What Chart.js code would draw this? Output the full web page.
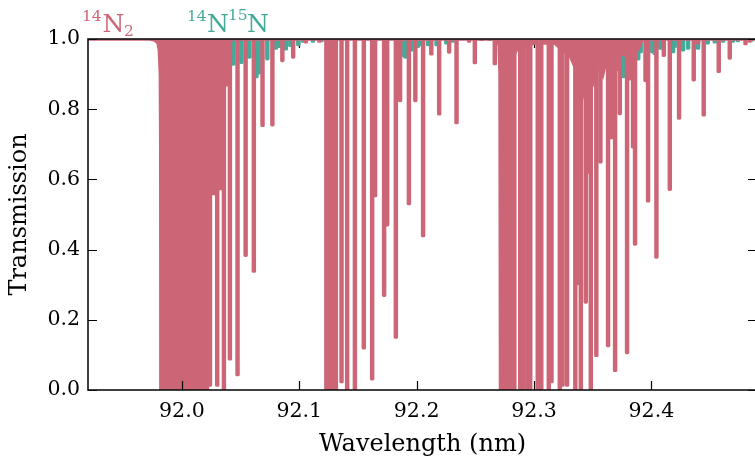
<!DOCTYPE html>
<html><head><meta charset="utf-8">
<script src="https://cdn.jsdelivr.net/npm/chart.js@4.4.0/dist/chart.umd.min.js"></script>
<style>html,body{margin:0;padding:0;overflow:hidden;background:#fff}canvas{display:block}</style>
</head><body>
<canvas id="c" width="760" height="457" style="width:760px;height:457px"></canvas>
<script>
// ---- data ----
const xTicks = [92.0, 92.1, 92.2, 92.3, 92.4];
const yTicks = [0.0, 0.2, 0.4, 0.6, 0.8, 1.0];

// 14N2 absorption lines: wavelength (nm) and minimum transmission
const n2LineWl = [
  91.9825, 91.9851, 91.9876, 91.9902, 91.9928, 91.9953, 91.9974, 92.0004, 92.0030, 92.0055,
  92.0081, 92.0106, 92.0132, 92.0158, 92.0183, 92.0204, 92.0239, 92.0271, 92.0301, 92.0328,
  92.0358, 92.0375, 92.0409, 92.0474, 92.0543, 92.0613, 92.0687, 92.0771, 92.0856, 92.0948,
  92.1056, 92.1171,
  92.1231, 92.1256, 92.1282, 92.1312, 92.1360, 92.1408, 92.1474, 92.1550, 92.1621, 92.1646,
  92.1723, 92.1749, 92.1823, 92.1859, 92.1934, 92.1989, 92.2055, 92.2125, 92.2192, 92.2277,
  92.2340, 92.2447, 92.2496, 92.2553, 92.2666, 92.2685,
  92.2726, 92.2751, 92.2777, 92.2798, 92.2832, 92.2883, 92.2905, 92.2943, 92.2968, 92.3032,
  92.3062, 92.3126, 92.3149, 92.3220, 92.3243, 92.3282, 92.3352, 92.3377, 92.3399, 92.3441,
  92.3467, 92.3484, 92.3531, 92.3566, 92.3631, 92.3660, 92.3691, 92.3731, 92.3793, 92.3812,
  92.3844, 92.3861, 92.3950, 92.3972, 92.4043, 92.4106, 92.4157, 92.4236, 92.4361, 92.4398,
  92.4446, 92.4574, 92.4668, 92.4802, 92.4838
];
const n2LineMin = [
  0.00, 0.00, 0.00, 0.00, 0.00, 0.00, 0.00, 0.00, 0.00, 0.00,
  0.00, 0.00, 0.00, 0.00, 0.00, 0.00, 0.01, 0.56, 0.01, 0.57,
  0.00, 0.87, 0.085, 0.04, 0.38, 0.335, 0.75, 0.752, 0.935, 0.945,
  0.988, 0.99,
  0.00, 0.00, 0.00, 0.00, 0.02, 0.00, 0.00, 0.116, 0.028, 0.55,
  0.266, 0.467, 0.147, 0.821, 0.527, 0.821, 0.436, 0.954, 0.783, 0.959,
  0.758, 0.99, 0.929, 0.995, 0.926, 0.985,
  0.00, 0.00, 0.00, 0.00, 0.00, 0.00, 0.00, 0.00, 0.00, 0.00,
  0.00, 0.00, 0.02, 0.00, 0.01, 0.01, 0.00, 0.30, 0.00, 0.247,
  0.617, 0.00, 0.095, 0.646, 0.123, 0.715, 0.052, 0.784, 0.103, 0.883,
  0.689, 0.412, 0.878, 0.535, 0.375, 0.95, 0.568, 0.771, 0.880, 0.985,
  0.78, 0.904, 0.942, 0.983, 0.99
];

// upper envelope of the 14N2 spectrum (local maxima between blended lines)
const n2EnvWl = [
  91.9200, 91.9727, 91.9770, 91.9796, 91.9808, 91.9817, 91.9823, 91.9828, 91.9983, 91.9987,
  91.9991, 92.0217, 92.0224, 92.0234, 92.0290, 92.0311, 92.0345, 92.0353, 92.0383, 92.0394,
  92.0403, 92.2683, 92.2696, 92.2704, 92.2711, 92.2715, 92.2809, 92.2813, 92.2819, 92.2850,
  92.2922, 92.2999, 92.3084, 92.3178, 92.3237, 92.3305, 92.3365, 92.3416, 92.3433, 92.3459,
  92.3501, 92.3552, 92.3586, 92.3620, 92.3662, 92.3688, 92.3731, 92.3765, 92.3816, 92.3850,
  92.3884, 92.3909, 92.3926, 92.4900
];
const n2EnvT = [
  1.000, 1.000, 0.997, 0.990, 0.970, 0.900, 0.500, 0.000, 0.000, 0.836,
  0.000, 0.000, 0.960, 0.560, 0.560, 0.600, 0.620, 0.870, 0.870, 0.985,
  1.000, 1.000, 0.995, 0.980, 0.900, 0.000, 0.000, 0.910, 0.950, 0.969,
  0.978, 0.989, 0.989, 0.989, 0.970, 0.955, 0.910, 0.860, 0.836, 0.900,
  0.875, 0.930, 0.900, 0.950, 0.960, 0.950, 0.960, 0.955, 0.950, 0.960,
  0.970, 0.990, 1.000, 1.000
];

// 14N15N absorption lines
const n15LineWl = [
  92.0439, 92.0507, 92.0575, 92.0635, 92.0656, 92.0728, 92.0801, 92.0830, 92.0886, 92.0924,
  92.0992, 92.1031, 92.1116, 92.1190,
  92.1878, 92.1904, 92.1957, 92.2010, 92.2042, 92.2098, 92.2170, 92.2253, 92.2308, 92.2624,
  92.3662, 92.3711, 92.3760, 92.3820, 92.3888, 92.3909, 92.4008, 92.4029, 92.4076, 92.4185,
  92.4199, 92.4270, 92.4313, 92.4398, 92.4480, 92.4540, 92.4611, 92.4694, 92.4736, 92.4853
];
const n15LineMin = [
  0.925, 0.930, 0.945, 0.889, 0.900, 0.940, 0.970, 0.975, 0.968, 0.978,
  0.980, 0.990, 0.990, 0.992,
  0.950, 0.945, 0.965, 0.975, 0.980, 0.980, 0.980, 0.985, 0.990, 0.995,
  0.920, 0.910, 0.889, 0.889, 0.940, 0.960, 0.960, 0.955, 0.970, 0.960,
  0.975, 0.965, 0.970, 0.970, 0.985, 0.988, 0.990, 0.990, 0.992, 0.993
];

// ---- styling ----
const RED = '#CC6677';
const TEAL = '#44AA99';
const FONT = '"DejaVu Serif", serif';

const framePlugin = {
  id: 'frame',
  beforeDatasetsDraw(chart) {
    const {ctx, chartArea: a, scales: {x}} = chart;
    ctx.save();
    ctx.strokeStyle = '#000'; ctx.lineWidth = 1.2;
    ctx.beginPath();
    xTicks.forEach(v => { const p = Math.round(x.getPixelForValue(v)) + 0.5; ctx.moveTo(p, a.top); ctx.lineTo(p, a.top + 9); });
    ctx.stroke();
    ctx.restore();
  },
  afterDatasetsDraw(chart) {
    const {ctx, chartArea: a, scales: {x, y}} = chart;
    ctx.save();
    ctx.strokeStyle = '#000'; ctx.lineWidth = 1.2;
    ctx.beginPath();
    xTicks.forEach(v => { const p = Math.round(x.getPixelForValue(v)) + 0.5; ctx.moveTo(p, a.bottom); ctx.lineTo(p, a.bottom - 9); });
    yTicks.forEach(v => { const p = Math.round(y.getPixelForValue(v)) + 0.5; ctx.moveTo(a.left, p); ctx.lineTo(a.left + 9, p); ctx.moveTo(a.right, p); ctx.lineTo(a.right - 9, p); });
    ctx.stroke();
    ctx.strokeStyle = '#111'; ctx.lineWidth = 1.6;
    ctx.strokeRect(a.left, a.top, a.right - a.left, a.bottom - a.top);
    ctx.restore();
  },
  afterDraw(chart) {
    const ctx = chart.ctx;
    ctx.save();
    ctx.textBaseline = 'alphabetic'; ctx.textAlign = 'left';
    const put = (t, x, yb, size, col) => { ctx.font = size + 'px ' + FONT; ctx.fillStyle = col; ctx.fillText(t, x, yb); };
    put('14', 82, 20.5, 15.5, RED);
    put('N', 102.5, 32.3, 25, RED);
    put('2', 124, 36, 15.5, RED);
    put('14', 187, 20.5, 15.5, TEAL);
    put('N', 207, 32.3, 25, TEAL);
    put('15', 228, 19.5, 15.5, TEAL);
    put('N', 247, 32.3, 25, TEAL);
    ctx.restore();
  }
};

const lineBars = (wl, mn) => wl.map((w, i) => ({x: w, y: [mn[i], 1]}));
const curve = (wl, t) => wl.map((w, i) => ({x: w, y: t[i]}));

new Chart(document.getElementById('c'), {
  type: 'bar',
  data: {
    datasets: [
      { label: '14N15N lines', data: lineBars(n15LineWl, n15LineMin), backgroundColor: TEAL,
        barThickness: 3.8, grouped: false, borderRadius: 1.6, borderSkipped: false, order: 4, clip: 0 },
      { type: 'line', label: '14N2 envelope', data: curve(n2EnvWl, n2EnvT), borderColor: RED, backgroundColor: RED,
        borderWidth: 3.6, pointRadius: 0, tension: 0, fill: 'end', order: 2, clip: 0 },
      { label: '14N2 lines', data: lineBars(n2LineWl, n2LineMin), backgroundColor: RED,
        barThickness: 3.8, grouped: false, borderRadius: 1.6, borderSkipped: false, order: 1, clip: 0 }
    ]
  },
  options: {
    responsive: false, animation: false, devicePixelRatio: 1,
    layout: { padding: { left: 0, right: 3, top: 39, bottom: 0 } },
    plugins: { legend: { display: false }, tooltip: { enabled: false } },
    scales: {
      x: {
        type: 'linear', min: 91.92, max: 92.49, offset: false,
        grid: { display: false, drawTicks: false }, border: { display: false },
        afterBuildTicks: s => { s.ticks = xTicks.map(v => ({value: v})); },
        afterFit: s => { s.height = 67; },
        ticks: { color: '#000', padding: 9, maxRotation: 0, font: { family: FONT, size: 20.5 },
                 callback: v => v.toFixed(1) },
        title: { display: true, text: 'Wavelength (nm)', color: '#000',
                 font: { family: FONT, size: 24, lineHeight: 1 }, padding: { top: 0, bottom: 0 } }
      },
      y: {
        min: 0, max: 1,
        grid: { display: false, drawTicks: false }, border: { display: false },
        afterBuildTicks: s => { s.ticks = yTicks.map(v => ({value: v})); },
        afterFit: s => { s.width = 88; },
        ticks: { color: '#000', padding: 8, font: { family: FONT, size: 20.5 },
                 callback: v => v.toFixed(1) },
        title: { display: true, text: 'Transmission', color: '#000',
                 font: { family: FONT, size: 24, lineHeight: 1 }, padding: { top: 8, bottom: 0 } }
      }
    }
  },
  plugins: [framePlugin]
});
</script>
</body></html>
